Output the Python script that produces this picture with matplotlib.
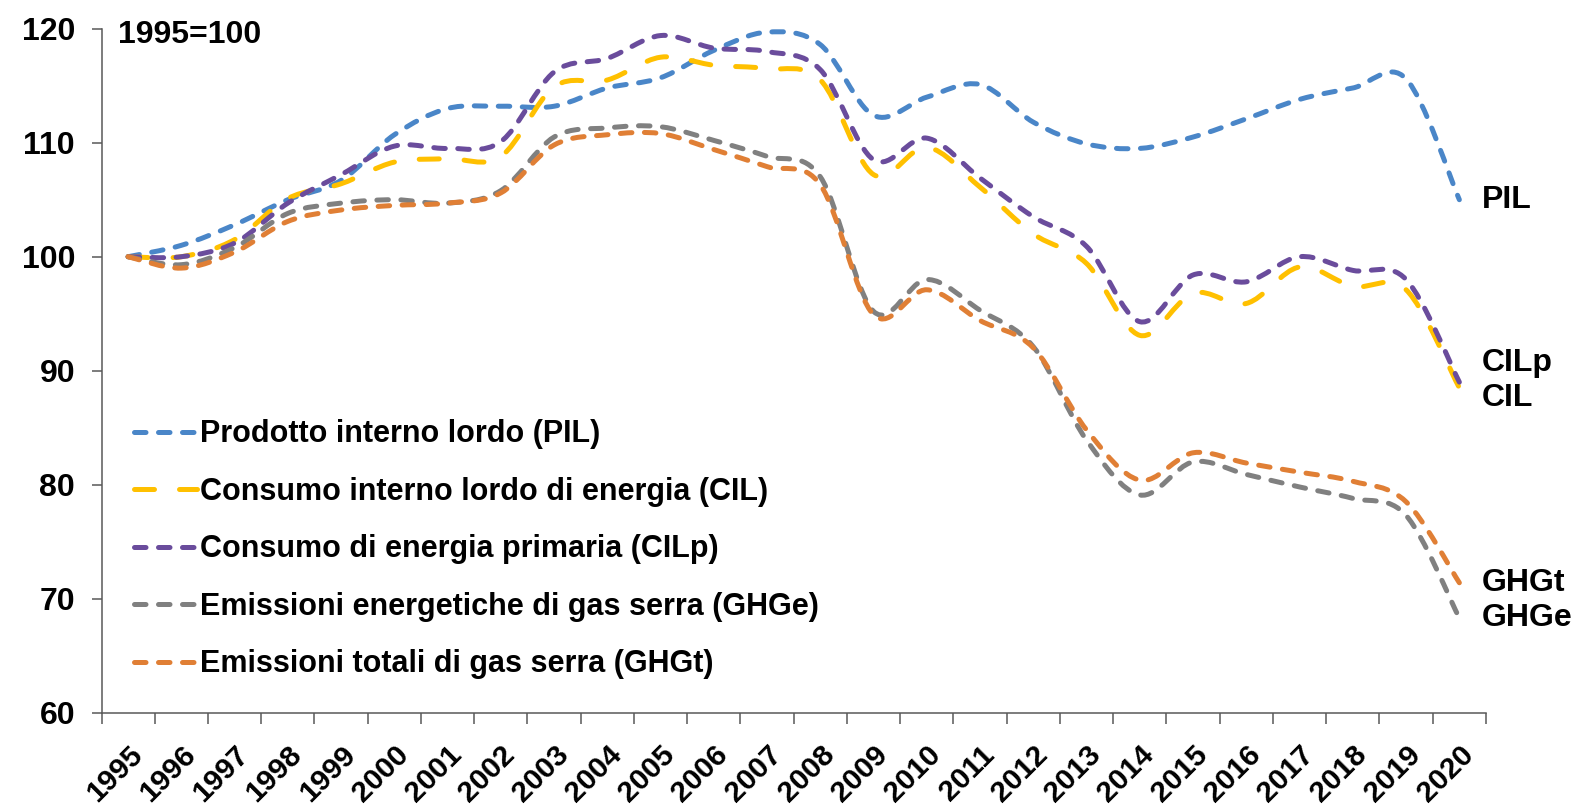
import numpy as np
import matplotlib.pyplot as plt
from matplotlib.path import Path
from matplotlib.patches import PathPatch
from matplotlib.lines import Line2D

plt.rcParams['font.family'] = ['Liberation Sans', 'DejaVu Sans']
plt.rcParams['font.weight'] = 'bold'

years = [str(y) for y in range(1995, 2021)]

pil = [100, 101.0, 102.8, 105.0, 106.7, 110.7, 113.0, 113.2, 113.2, 114.8, 115.7, 118.1, 119.7,
       118.6, 112.4, 114.0, 115.1, 111.8, 109.9, 109.5, 110.5, 112.1, 113.8, 114.8, 115.6, 105.0]
cil = [100, 100.0, 101.5, 105.1, 106.4, 108.3, 108.6, 108.8, 114.9, 115.5, 117.5, 116.8, 116.5,
       115.5, 107.2, 109.6, 106.1, 102.0, 99.4, 93.1, 96.8, 95.9, 99.1, 97.4, 97.1, 88.5]
cilp = [100, 100.0, 101.2, 104.7, 107.2, 109.7, 109.5, 110.1, 116.2, 117.4, 119.4, 118.3, 118.0,
        116.4, 108.5, 110.4, 106.9, 103.5, 100.9, 94.3, 98.4, 97.8, 100.0, 98.8, 98.0, 89.0]
ghge = [100, 99.3, 100.8, 103.8, 104.7, 105.0, 104.7, 105.8, 110.5, 111.3, 111.4, 110.2, 108.8,
        107.0, 95.2, 98.0, 95.3, 92.1, 83.9, 79.1, 82.0, 80.9, 79.8, 78.8, 77.3, 68.3]
ghgt = [100, 99.0, 100.4, 103.1, 104.1, 104.5, 104.7, 105.6, 109.8, 110.7, 110.8, 109.4, 107.9,
        106.3, 94.9, 97.1, 94.4, 92.0, 84.8, 80.4, 82.8, 81.9, 81.1, 80.3, 78.5, 71.4]

names = ["Prodotto interno lordo (PIL)",
         "Consumo interno lordo di energia (CIL)",
         "Consumo di energia primaria (CILp)",
         "Emissioni energetiche di gas serra (GHGe)",
         "Emissioni totali di gas serra (GHGt)"]
short = ["PIL", "CIL", "CILp", "GHGe", "GHGt"]
series = [pil, cil, cilp, ghge, ghgt]
colors = ['#4A86C8', '#FFC000', '#6A4C9C', '#808080', '#E07F35']
dashes = [(2.3, 2.5), (4, 5), (2.3, 2.5), (2.3, 2.5), (2.3, 2.5)]
# label offsets (points) from the last point of each series
label_dy = [0, -7, 14, 0, 0]


def smooth_path(xs, ys):
    # excel-like smoothed line: catmull-rom segments as cubic beziers
    pts = np.column_stack([xs, ys]).astype(float)
    n = len(pts)
    verts = [pts[0]]
    codes = [Path.MOVETO]
    for i in range(n - 1):
        p0 = pts[max(i - 1, 0)]
        p1 = pts[i]
        p2 = pts[i + 1]
        p3 = pts[min(i + 2, n - 1)]
        verts += [p1 + (p2 - p0) / 6, p2 - (p3 - p1) / 6, p2]
        codes += [Path.CURVE4] * 3
    return Path(verts, codes)


fig = plt.figure(figsize=(15.81, 8.11), dpi=100)
ax = fig.add_axes([0.0642, 0.1212, 0.8757, 0.8434])

x = np.arange(len(years))
lw = 3.6
handles = []
for vals, c, d, name, lab, dy in zip(series, colors, dashes, names, short, label_dy):
    patch = PathPatch(smooth_path(x, vals), fill=False, edgecolor=c, lw=lw,
                      linestyle=(0, d), capstyle='round', joinstyle='round')
    ax.add_patch(patch)
    handles.append(Line2D([], [], color=c, lw=lw, linestyle=(0, d), dash_capstyle='round'))
    ax.annotate(lab, xy=(x[-1], vals[-1]), xytext=(16, dy), textcoords='offset points',
                fontsize=23, fontweight='bold', va='center', ha='left', annotation_clip=False)

ax.set_xlim(-0.5, len(years) - 0.5)
ax.set_ylim(60, 120)
ax.set_yticks(range(60, 121, 10))
ax.set_xticks(np.arange(-0.5, len(years)), labels=[])
ax.set_xticks(x, labels=years, minor=True)
ax.tick_params(axis='x', which='major', length=8, width=1.1, color='#595959')
ax.tick_params(axis='x', which='minor', length=0, pad=20, labelsize=21.5)
ax.tick_params(axis='y', length=7, width=1.1, color='#595959', pad=12, labelsize=23)
for lbl in ax.get_xticklabels(minor=True):
    lbl.set_rotation(45)
    lbl.set_ha('right')
    lbl.set_va('top')
    lbl.set_rotation_mode('anchor')
    lbl.set_fontweight('bold')
for lbl in ax.get_yticklabels():
    lbl.set_fontweight('bold')

for s in ['top', 'right']:
    ax.spines[s].set_visible(False)
for s in ['left', 'bottom']:
    ax.spines[s].set_color('#595959')
    ax.spines[s].set_linewidth(1.1)

ax.legend(handles, names, loc='center left', bbox_to_anchor=(0.0235, 0.239), frameon=False,
          prop={'size': 22, 'weight': 'bold'}, handlelength=2.05, handletextpad=0.12,
          labelspacing=0.9, borderpad=0, borderaxespad=0)

fig.text(118 / 1581, 1 - 43 / 811, "1995=100", fontsize=23, fontweight='bold', va='baseline')

fig.savefig('out.png', dpi=100)
